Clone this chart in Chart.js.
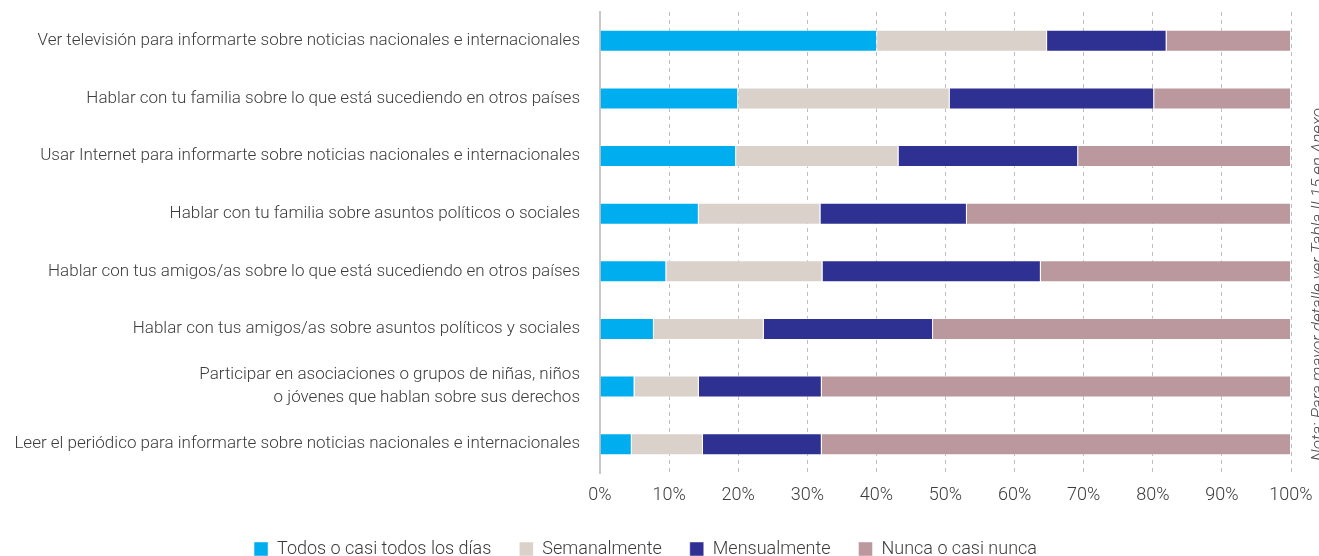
<!DOCTYPE html>
<html lang="es">
<head>
    <meta charset="UTF-8">
    <title>Frecuencia de actividades</title>
    <script src="https://cdn.jsdelivr.net/npm/chart.js"></script>
    <style>
        body {
            margin: 0;
            padding: 0;
            background: #ffffff;
            overflow: hidden;
        }

        /* Chart wrapper fills the window */
        .chart-box {
            position: relative;
            width: 1319px;
            height: 556px;
        }
    </style>
</head>
<body>

<div class="chart-box">
    <canvas id="myChart"></canvas>
</div>

<script>
    // Categories (top to bottom)
    const categories = [
        "Ver televisión para informarte sobre noticias nacionales e internacionales",
        "Hablar con tu familia sobre lo que está sucediendo en otros países",
        "Usar Internet para informarte sobre noticias nacionales e internacionales",
        "Hablar con tu familia sobre asuntos políticos o sociales",
        "Hablar con tus amigos/as sobre lo que está sucediendo en otros países",
        "Hablar con tus amigos/as sobre asuntos políticos y sociales",
        ["Participar en asociaciones o grupos de niñas, niños", "o jóvenes que hablan sobre sus derechos"],
        "Leer el periódico para informarte sobre noticias nacionales e internacionales"
    ];

    // Series values (%)
    const todosLosDias = [40.1, 20.0, 19.7, 14.3, 9.6, 7.8, 5.0, 4.6];
    const semanalmente = [24.6, 30.6, 23.5, 17.6, 22.6, 15.9, 9.3, 10.3];
    const mensualmente = [17.3, 29.6, 26.0, 21.2, 31.6, 24.5, 17.8, 17.2];
    const nuncaCasiNunca = [18.0, 19.8, 30.8, 46.9, 36.2, 51.8, 67.9, 67.9];

    const seriesNames = ["Todos o casi todos los días", "Semanalmente", "Mensualmente", "Nunca o casi nunca"];
    const tickValues = [0, 10, 20, 30, 40, 50, 60, 70, 80, 90, 100];
    const noteText = "Nota: Para mayor detalle ver Tabla II.15 en Anexo";

    const textColor = "#3c3c3c";
    const fontFamily = "Roboto, 'Liberation Sans', sans-serif";

    // Rotated note at the right edge
    const notePlugin = {
        id: "sideNote",
        afterDraw(chart) {
            const c = chart.ctx;
            c.save();
            c.translate(1323, 461);
            c.rotate(-Math.PI / 2);
            c.font = "italic 300 17px " + fontFamily;
            c.fillStyle = "#4a4a4a";
            c.textAlign = "left";
            c.textBaseline = "alphabetic";
            c.fillText(noteText, 0, 0);
            c.restore();
        }
    };

    // keep the legend short so it sits near the bottom edge
    const legendHeight = {
        id: "legendHeight",
        beforeUpdate(chart) {
            const lg = chart.legend;
            if (lg && !lg._fixed) {
                const orig = lg.fit;
                lg.fit = function () {
                    orig.call(this);
                    this.height = 44;
                };
                lg._fixed = true;
            }
        }
    };

    const ctx = document.getElementById("myChart").getContext("2d");

    new Chart(ctx, {
        type: "bar",
        data: {
            labels: categories,
            datasets: [
                { label: seriesNames[0], data: todosLosDias, backgroundColor: "#00aeef" },
                { label: seriesNames[1], data: semanalmente, backgroundColor: "#dad1cb" },
                { label: seriesNames[2], data: mensualmente, backgroundColor: "#2e3192" },
                { label: seriesNames[3], data: nuncaCasiNunca, backgroundColor: "#ba989e" }
            ]
        },
        options: {
            indexAxis: "y",
            responsive: true,
            maintainAspectRatio: false,
            animation: false,
            barPercentage: 0.38,
            categoryPercentage: 1,
            borderWidth: 1,
            borderColor: "rgba(255,255,255,0.45)",
            layout: {
                padding: { top: 12, right: 28, left: 0, bottom: 0 }
            },
            scales: {
                x: {
                    stacked: true,
                    min: 0,
                    max: 100,
                    afterBuildTicks(scale) {
                        scale.ticks = tickValues.map(v => ({ value: v }));
                    },
                    afterFit(scale) {
                        scale.height = 39;
                        scale.paddingLeft = 0;
                        scale.paddingRight = 0;
                    },
                    grid: {
                        color: "#bdbdbd",
                        lineWidth: 1,
                        drawTicks: false
                    },
                    border: {
                        display: false,
                        dash: [4, 4]
                    },
                    ticks: {
                        padding: 12,
                        color: textColor,
                        font: { family: fontFamily, size: 18, weight: "300" },
                        callback: v => v + "%"
                    }
                },
                y: {
                    stacked: true,
                    afterFit(scale) {
                        scale.width = 600;
                        scale.paddingTop = 0;
                        scale.paddingBottom = 0;
                    },
                    grid: {
                        display: false,
                        drawTicks: false
                    },
                    border: {
                        display: true,
                        color: "#c8c8c8",
                        width: 2
                    },
                    ticks: {
                        padding: 20,
                        color: textColor,
                        font: { family: fontFamily, size: 17, weight: "300", lineHeight: 1.35 }
                    }
                }
            },
            plugins: {
                legend: {
                    position: "bottom",
                    labels: {
                        boxWidth: 14,
                        boxHeight: 14,
                        padding: 28,
                        color: textColor,
                        font: { family: fontFamily, size: 18, weight: "300" }
                    }
                },
                tooltip: { enabled: false }
            }
        },
        plugins: [legendHeight, notePlugin]
    });
</script>

</body>
</html>
